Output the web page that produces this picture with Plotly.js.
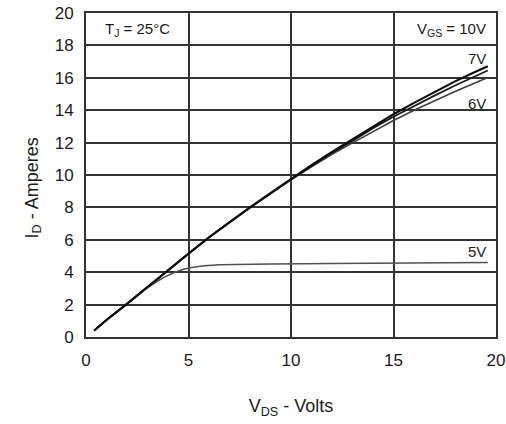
<!DOCTYPE html>
<html>
<head>
<meta charset="utf-8">
<script src="https://cdn.plot.ly/plotly-3.0.1.min.js"></script>
<style>
  html, body { margin: 0; padding: 0; background: #fff; }
  #chart { width: 506px; height: 424px; }
</style>
</head>
<body>
<div id="chart"></div>
<script>
// Output characteristics: drain current vs drain-source voltage, TJ = 25°C
const vds = [0.4, 1, 2, 3, 4, 5, 6, 7, 8, 9, 10, 11, 12, 13, 14, 15, 16, 17, 18, 19, 19.6];
const id10V = [0.4, 1.05, 2.05, 3.1, 4.15, 5.15, 6.15, 7.1, 8.0, 8.88, 9.75, 10.6, 11.43, 12.2, 13.0, 13.75, 14.45, 15.12, 15.78, 16.38, 16.72];
const id7V  = [0.4, 1.05, 2.05, 3.1, 4.15, 5.15, 6.15, 7.1, 8.0, 8.88, 9.75, 10.56, 11.36, 12.1, 12.88, 13.6, 14.26, 14.9, 15.52, 16.1, 16.45];
const id6V  = [0.4, 1.05, 2.05, 3.1, 4.15, 5.15, 6.15, 7.1, 7.98, 8.84, 9.7, 10.5, 11.28, 11.98, 12.68, 13.36, 14.0, 14.6, 15.15, 15.7, 16.02];
const vds5V = [0.4, 1, 2, 2.8, 3.3, 3.8, 4.3, 4.8, 5.3, 5.8, 6.5, 7.5, 9, 12, 15, 18, 19.6];
const id5V  = [0.4, 1.05, 2.05, 2.88, 3.3, 3.68, 3.98, 4.2, 4.32, 4.4, 4.46, 4.49, 4.51, 4.54, 4.57, 4.6, 4.6];

const xTicks = [0, 5, 10, 15, 20];
const yTicks = [0, 2, 4, 6, 8, 10, 12, 14, 16, 18, 20];

const font = "Liberation Sans, Arial, sans-serif";

function curve(x, y, color, width) {
  return { x: x, y: y, type: "scatter", mode: "lines",
           line: { color: color, width: width, shape: "linear" },
           hoverinfo: "skip", showlegend: false };
}

const traces = [
  curve(vds5V, id5V, "#505050", 1.6),
  curve(vds, id6V, "#404040", 1.6),
  curve(vds, id7V, "#1a1a1a", 1.7),
  curve(vds, id10V, "#0d0d0d", 2.2)
];

const textColor = "#1a1a1a";
const annFont = { family: font, size: 15, color: textColor };
const titleFont = { family: font, size: 18, color: textColor };

const layout = {
  width: 506, height: 424,
  margin: { l: 86, r: 10, t: 13, b: 87 },
  paper_bgcolor: "#fff", plot_bgcolor: "#fff",
  font: { family: font, size: 17, color: textColor },
  xaxis: {
    range: [0, 20], tickvals: xTicks, ticktext: xTicks.map(String),
    showgrid: true, gridcolor: "#333", gridwidth: 2,
    showline: true, mirror: true, linecolor: "#333", linewidth: 2,
    zeroline: false, ticks: "", ticklabelstandoff: 7,
    title: { text: "V<sub>DS</sub> - Volts", font: titleFont, standoff: 30 }
  },
  yaxis: {
    range: [0, 20], tickvals: yTicks, ticktext: yTicks.map(String),
    showgrid: true, gridcolor: "#333", gridwidth: 2,
    showline: true, mirror: true, linecolor: "#333", linewidth: 2,
    zeroline: false, ticks: "", ticklabelstandoff: 7
  },
  annotations: [
    // vertical axis title, placed close to the left edge
    { x: -0.161, y: 0.46, xref: "paper", yref: "paper", textangle: -90,
      text: "I<sub>D</sub> - Amperes", showarrow: false, font: titleFont },
    { x: 2.5, y: 19, xref: "x", yref: "y", text: "T<sub>J</sub> = 25°C", showarrow: false, font: annFont },
    { x: 19.6, y: 19, xref: "x", yref: "y", xanchor: "right", text: "V<sub>GS</sub> = 10V", showarrow: false, font: annFont },
    { x: 19.6, y: 17.2, xref: "x", yref: "y", xanchor: "right", text: "7V", showarrow: false, font: annFont },
    { x: 19.6, y: 14.4, xref: "x", yref: "y", xanchor: "right", text: "6V", showarrow: false, font: annFont },
    { x: 19.6, y: 5.3, xref: "x", yref: "y", xanchor: "right", text: "5V", showarrow: false, font: annFont }
  ]
};

Plotly.newPlot("chart", traces, layout, { staticPlot: true, displayModeBar: false });
</script>
</body>
</html>
